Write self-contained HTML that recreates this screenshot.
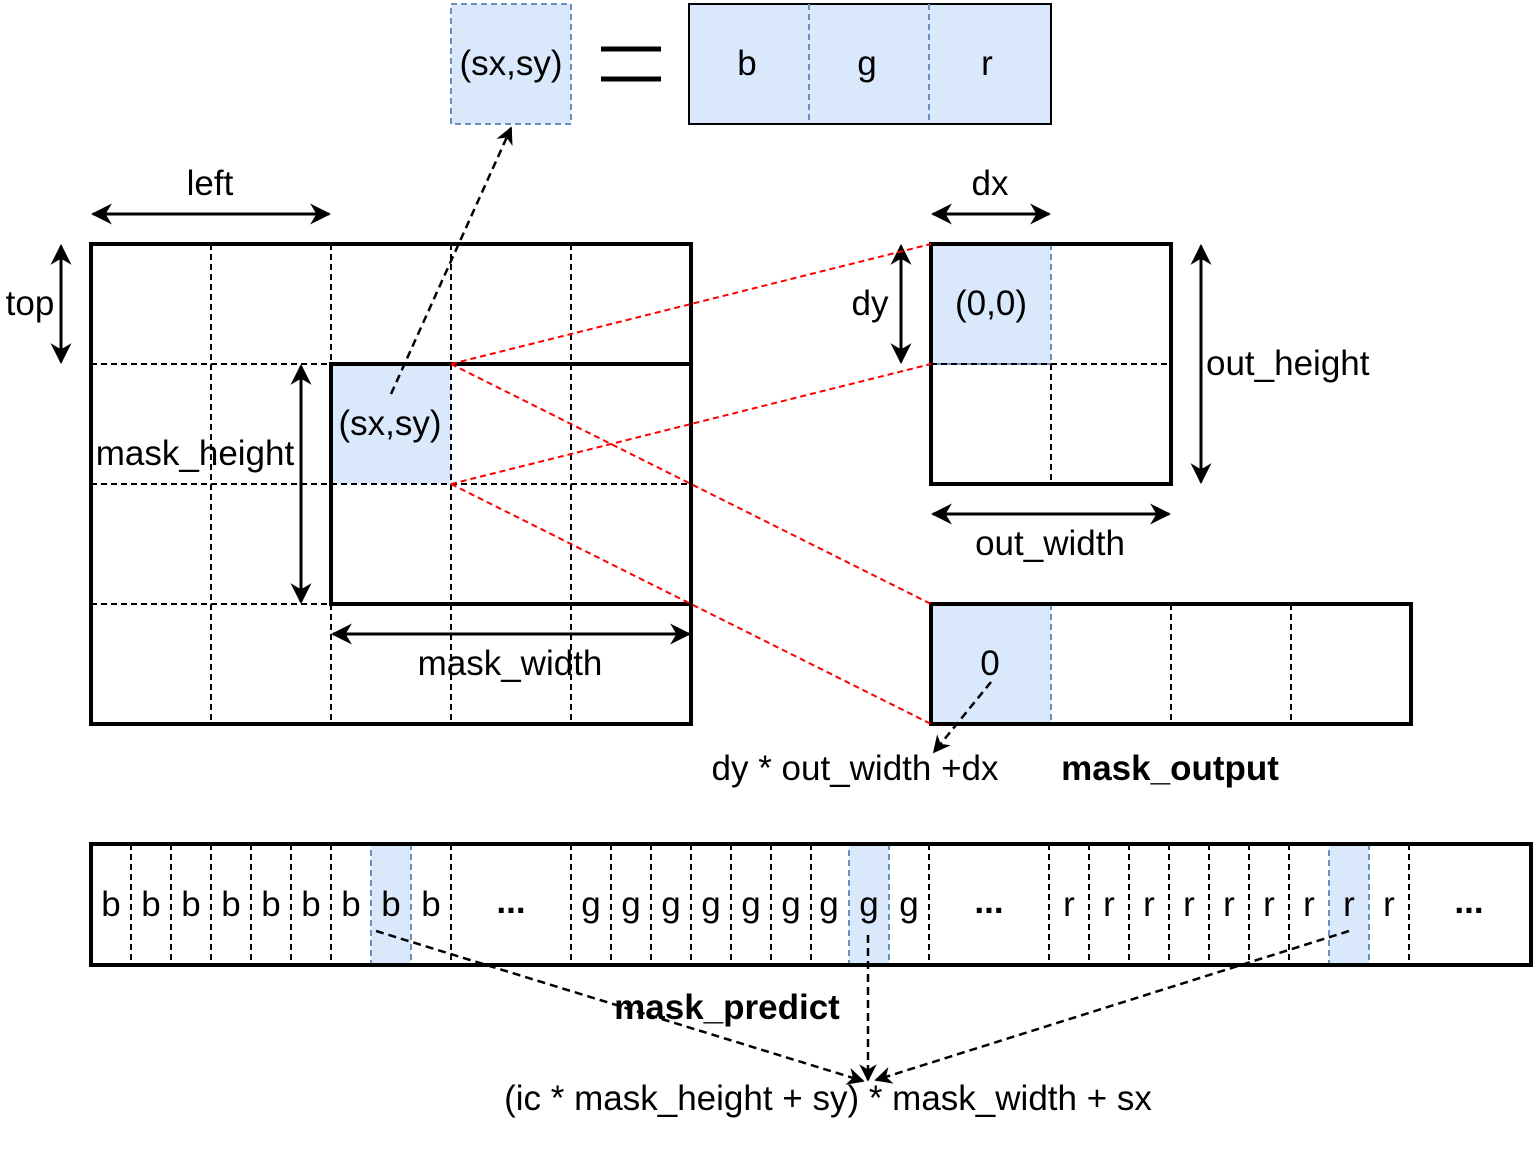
<!DOCTYPE html>
<html><head><meta charset="utf-8"><style>
html,body{margin:0;padding:0;background:#fff}
svg text{font-family:"Liberation Sans",Arial,sans-serif;font-size:35px;fill:#000}
</style></head><body>
<svg width="1539" height="1146" viewBox="0 0 1539 1146" xmlns="http://www.w3.org/2000/svg">
<defs>
<marker id="a" viewBox="0 0 10 10" refX="9" refY="5" markerWidth="7" markerHeight="7" orient="auto-start-reverse"><path d="M0,0 L10,5 L0,10 L3,5 z" fill="#000"/></marker>
</defs>
<rect x="451" y="4" width="120" height="120" fill="#dae8fc" stroke="#6c8ebf" stroke-width="2" stroke-dasharray="6,4"/>
<text x="511" y="75" text-anchor="middle">(sx,sy)</text>
<line x1="601" y1="49" x2="661" y2="49" stroke="#000" stroke-width="5"/>
<line x1="601" y1="79" x2="661" y2="79" stroke="#000" stroke-width="5"/>
<rect x="689" y="4" width="362" height="120" fill="#dae8fc" stroke="#000" stroke-width="2"/>
<line x1="809" y1="4" x2="809" y2="124" stroke="#6c8ebf" stroke-width="2" stroke-dasharray="6,4"/>
<line x1="929" y1="4" x2="929" y2="124" stroke="#6c8ebf" stroke-width="2" stroke-dasharray="6,4"/>
<text x="747" y="75" text-anchor="middle">b</text>
<text x="867" y="75" text-anchor="middle">g</text>
<text x="987" y="75" text-anchor="middle">r</text>
<rect x="331" y="364" width="120" height="120" fill="#dae8fc"/>
<g stroke="#000" stroke-width="2" stroke-dasharray="6,4" fill="none">
<line x1="211" y1="244" x2="211" y2="724"/><line x1="331" y1="244" x2="331" y2="724"/>
<line x1="451" y1="244" x2="451" y2="724"/><line x1="571" y1="244" x2="571" y2="724"/>
<line x1="91" y1="364" x2="691" y2="364"/><line x1="91" y1="484" x2="691" y2="484"/>
<line x1="91" y1="604" x2="691" y2="604"/>
</g>
<rect x="91" y="244" width="600" height="480" fill="none" stroke="#000" stroke-width="4"/>
<rect x="331" y="364" width="360" height="240" fill="none" stroke="#000" stroke-width="4"/>
<text x="390" y="435" text-anchor="middle">(sx,sy)</text>
<text x="195" y="465" text-anchor="middle">mask_height</text>
<text x="510" y="675" text-anchor="middle">mask_width</text>
<text x="210" y="195" text-anchor="middle">left</text>
<text x="30" y="315" text-anchor="middle">top</text>
<rect x="931" y="244" width="120" height="120" fill="#dae8fc" stroke="#6c8ebf" stroke-width="2" stroke-dasharray="6,4"/>
<g stroke="#000" stroke-width="2" stroke-dasharray="6,4"><line x1="1051" y1="364" x2="1051" y2="484"/><line x1="931" y1="364" x2="1171" y2="364"/></g>
<rect x="931" y="244" width="240" height="240" fill="none" stroke="#000" stroke-width="4"/>
<text x="991" y="315" text-anchor="middle">(0,0)</text>
<text x="990" y="195" text-anchor="middle">dx</text>
<text x="870" y="315" text-anchor="middle">dy</text>
<text x="1206" y="375">out_height</text>
<text x="1050" y="555" text-anchor="middle">out_width</text>
<rect x="931" y="604" width="120" height="120" fill="#dae8fc" stroke="#6c8ebf" stroke-width="2" stroke-dasharray="6,4"/>
<g stroke="#000" stroke-width="2" stroke-dasharray="6,4"><line x1="1171" y1="604" x2="1171" y2="724"/><line x1="1291" y1="604" x2="1291" y2="724"/></g>
<rect x="931" y="604" width="480" height="120" fill="none" stroke="#000" stroke-width="4"/>
<text x="990" y="675" text-anchor="middle">0</text>
<text x="855" y="780" text-anchor="middle">dy * out_width +dx</text>
<text x="1170" y="780" text-anchor="middle" font-weight="bold">mask_output</text>
<g stroke="#000" stroke-width="3" marker-start="url(#a)" marker-end="url(#a)">
<line x1="93" y1="214" x2="329" y2="214"/>
<line x1="61" y1="246" x2="61" y2="362"/>
<line x1="301" y1="366" x2="301" y2="602"/>
<line x1="333" y1="634" x2="689" y2="634"/>
<line x1="933" y1="214" x2="1049" y2="214"/>
<line x1="901" y1="246" x2="901" y2="362"/>
<line x1="1201" y1="246" x2="1201" y2="482"/>
<line x1="933" y1="514" x2="1169" y2="514"/>
</g>
<g stroke="#f00" stroke-width="2" stroke-dasharray="6,4">
<line x1="451" y1="364" x2="931" y2="244"/><line x1="451" y1="484" x2="931" y2="364"/>
<line x1="451" y1="364" x2="931" y2="604"/><line x1="451" y1="484" x2="931" y2="724"/>
</g>
<g stroke="#000" stroke-width="2.5" stroke-dasharray="8,5" marker-end="url(#a)">
<line x1="391" y1="394" x2="511" y2="128"/>
<line x1="991" y1="682" x2="934" y2="752"/>
</g>
<rect x="371" y="844" width="40" height="121" fill="#dae8fc" stroke="#6c8ebf" stroke-width="2" stroke-dasharray="6,4"/>
<rect x="849" y="844" width="40" height="121" fill="#dae8fc" stroke="#6c8ebf" stroke-width="2" stroke-dasharray="6,4"/>
<rect x="1329" y="844" width="40" height="121" fill="#dae8fc" stroke="#6c8ebf" stroke-width="2" stroke-dasharray="6,4"/>
<g stroke="#000" stroke-width="2" stroke-dasharray="6,4">
<line x1="131" y1="844" x2="131" y2="965"/><line x1="171" y1="844" x2="171" y2="965"/><line x1="211" y1="844" x2="211" y2="965"/><line x1="251" y1="844" x2="251" y2="965"/><line x1="291" y1="844" x2="291" y2="965"/><line x1="331" y1="844" x2="331" y2="965"/><line x1="451" y1="844" x2="451" y2="965"/>
<line x1="571" y1="844" x2="571" y2="965"/><line x1="611" y1="844" x2="611" y2="965"/><line x1="651" y1="844" x2="651" y2="965"/><line x1="691" y1="844" x2="691" y2="965"/><line x1="731" y1="844" x2="731" y2="965"/><line x1="771" y1="844" x2="771" y2="965"/><line x1="811" y1="844" x2="811" y2="965"/><line x1="929" y1="844" x2="929" y2="965"/>
<line x1="1049" y1="844" x2="1049" y2="965"/><line x1="1089" y1="844" x2="1089" y2="965"/><line x1="1129" y1="844" x2="1129" y2="965"/><line x1="1169" y1="844" x2="1169" y2="965"/><line x1="1209" y1="844" x2="1209" y2="965"/><line x1="1249" y1="844" x2="1249" y2="965"/><line x1="1289" y1="844" x2="1289" y2="965"/><line x1="1409" y1="844" x2="1409" y2="965"/>
</g>
<rect x="91" y="844" width="1440" height="121" fill="none" stroke="#000" stroke-width="4"/>
<g text-anchor="middle">
<text x="111" y="916">b</text><text x="151" y="916">b</text><text x="191" y="916">b</text><text x="231" y="916">b</text><text x="271" y="916">b</text><text x="311" y="916">b</text><text x="351" y="916">b</text><text x="391" y="916">b</text><text x="431" y="916">b</text>
<text x="511" y="913" font-weight="bold">...</text>
<text x="591" y="916">g</text><text x="631" y="916">g</text><text x="671" y="916">g</text><text x="711" y="916">g</text><text x="751" y="916">g</text><text x="791" y="916">g</text><text x="829" y="916">g</text><text x="869" y="916">g</text><text x="909" y="916">g</text>
<text x="989" y="913" font-weight="bold">...</text>
<text x="1069" y="916">r</text><text x="1109" y="916">r</text><text x="1149" y="916">r</text><text x="1189" y="916">r</text><text x="1229" y="916">r</text><text x="1269" y="916">r</text><text x="1309" y="916">r</text><text x="1349" y="916">r</text><text x="1389" y="916">r</text>
<text x="1469" y="913" font-weight="bold">...</text>
</g>
<g stroke="#000" stroke-width="2.5" stroke-dasharray="8,5" marker-end="url(#a)">
<line x1="376" y1="931" x2="863" y2="1081"/>
<line x1="868" y1="935" x2="868" y2="1080"/>
<line x1="1349" y1="931" x2="876" y2="1080"/>
</g>
<text x="727" y="1019" text-anchor="middle" font-weight="bold">mask_predict</text>
<text x="828" y="1110" text-anchor="middle">(ic * mask_height + sy) * mask_width + sx</text>
</svg>
</body></html>
